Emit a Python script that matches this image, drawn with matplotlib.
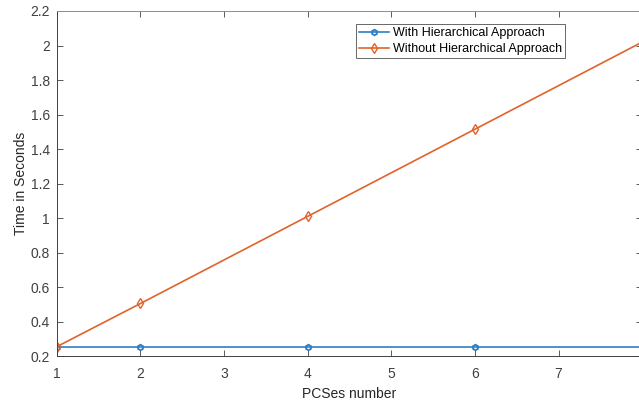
import matplotlib.pyplot as plt

# PCSes number vs. time
pcses = [1, 2, 4, 6, 8]
with_hier = [0.25, 0.25, 0.25, 0.25, 0.25]
without_hier = [0.255, 0.505, 1.01, 1.515, 2.02]

plt.rcParams['font.family'] = ['Liberation Sans', 'DejaVu Sans']

fig = plt.figure(figsize=(6.39, 4.07), dpi=100)
ax = fig.add_axes([0.089, 0.125, 0.916, 0.848])

ax.plot(pcses, with_hier, '-h', color='#2E7EC4', lw=1.2, ms=4,
        mfc='none', mew=1.3, label='With Hierarchical Approach')
ax.plot(pcses, without_hier, '-d', color='#E0632C', lw=1.2, ms=5,
        mfc='none', mew=1.0, label='Without Hierarchical Approach')

ax.set_xlim(1, 8)
ax.set_ylim(0.2, 2.2)
ax.set_xticks(range(1, 9))
ax.set_yticks([0.2, 0.4, 0.6, 0.8, 1, 1.2, 1.4, 1.6, 1.8, 2, 2.2])
ax.set_yticklabels(['0.2', '0.4', '0.6', '0.8', '1', '1.2', '1.4', '1.6',
                    '1.8', '2', '2.2'])
ax.tick_params(direction='in', top=True, right=True, labelsize=10,
               colors='#404040', length=4, width=0.6)
ax.tick_params(axis='x', pad=8)
ax.tick_params(axis='y', pad=5)
for s in ax.spines.values():
    s.set_color('#404040')
    s.set_linewidth(0.7)
ax.spines['top'].set_color('#909090')

ax.set_xlabel('PCSes number', fontsize=10, color='#262626', labelpad=4)
ax.set_ylabel('Time in Seconds', fontsize=10, color='#262626', labelpad=2)

leg = ax.legend(loc='upper left', bbox_to_anchor=(0.511, 0.962), fontsize=9,
                frameon=True, fancybox=False, handlelength=2.4,
                borderpad=0.25, labelspacing=0.3, handletextpad=0.3,
                borderaxespad=0)
leg.get_frame().set_edgecolor('#404040')
leg.get_frame().set_linewidth(0.7)

fig.savefig('out.png', dpi=100)
